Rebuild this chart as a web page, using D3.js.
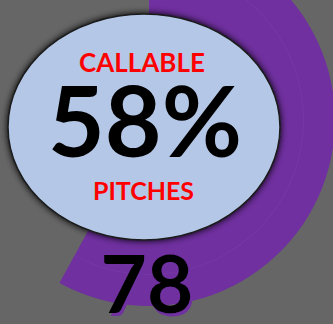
<!DOCTYPE html>
<html>
<head>
<meta charset="utf-8">
<script src="https://cdn.jsdelivr.net/npm/d3@7"></script>
<style>
  body { margin: 0; background: #666666; }
  svg { display: block; }
  text { font-family: Lato, "Open Sans", sans-serif; font-weight: bold; }
</style>
</head>
<body>
<div id="gauge"></div>
<script>
  var w = 333;
  var h = 324;

  // data
  var percentValues = [58];
  var countValues = [78];
  var topLabels = ["CALLABLE"];
  var bottomLabels = ["PITCHES"];

  var cx = 149, cy = 120;
  var outerR = 186, innerR = 100;

  var svg = d3.select("#gauge")
        .append("svg")
        .attr("width", w)
        .attr("height", h);

  var defs = svg.append("defs");
  var shadow = defs.append("filter")
        .attr("id", "shadow")
        .attr("x", "-20%").attr("y", "-20%")
        .attr("width", "140%").attr("height", "140%");
  shadow.append("feGaussianBlur")
        .attr("in", "SourceAlpha")
        .attr("stdDeviation", 3.5)
        .attr("result", "blur");
  var merge = shadow.append("feMerge");
  merge.append("feMergeNode").attr("in", "blur");
  merge.append("feMergeNode").attr("in", "SourceGraphic");

  var txtShadow = defs.append("filter").attr("id", "txtShadow");
  txtShadow.append("feFlood").attr("flood-color", "#7030a0");
  txtShadow.append("feComposite").attr("in2", "SourceAlpha").attr("operator", "in").attr("result", "col");
  txtShadow.append("feOffset").attr("in", "col").attr("dx", 2).attr("dy", 3).attr("result", "off");
  var m2 = txtShadow.append("feMerge");
  m2.append("feMergeNode").attr("in", "off");
  m2.append("feMergeNode").attr("in", "SourceGraphic");

  svg.append("rect")
    .attr("width", w)
    .attr("height", h)
    .attr("fill", "#666666");

  // percent -> angle
  var angle = d3.scaleLinear()
        .domain([0, 100])
        .range([0, 2 * Math.PI]);

  var arc = d3.arc()
        .innerRadius(innerR)
        .outerRadius(outerR)
        .startAngle(0);

  var g = svg.append("g")
        .attr("transform", "translate(" + cx + "," + cy + ")");

  g.selectAll(".ring")
    .data(percentValues)
    .enter()
    .append("path")
    .attr("class", "ring")
    .attr("d", function(d) { return arc.endAngle(angle(d))(); })
    .attr("fill", "#7030a0");

  // faint inner line in the ring
  g.selectAll(".ringLine")
    .data(percentValues)
    .enter()
    .append("path")
    .attr("class", "ringLine")
    .attr("d", function(d) {
      return d3.arc().innerRadius(154).outerRadius(155).startAngle(0).endAngle(angle(d))();
    })
    .attr("fill", "#8a55b5")
    .attr("opacity", 0.22);

  // center ellipse
  svg.append("ellipse")
    .attr("cx", 144)
    .attr("cy", 127)
    .attr("rx", 136)
    .attr("ry", 113)
    .attr("fill", "#b4c7e7")
    .attr("stroke", "#1a1a1a")
    .attr("stroke-width", 1.5)
    .attr("filter", "url(#shadow)");

  svg.selectAll(".top")
    .data(topLabels)
    .enter()
    .append("text")
    .attr("class", "top")
    .attr("x", 142)
    .attr("y", 72)
    .attr("text-anchor", "middle")
    .attr("fill", "#ff0000")
    .style("font-size", "26px")
    .text(function(d) { return d; });

  svg.selectAll(".pct")
    .data(percentValues)
    .enter()
    .append("text")
    .attr("class", "pct")
    .attr("x", 145)
    .attr("y", 157)
    .attr("text-anchor", "middle")
    .attr("fill", "#000")
    .style("font-size", "98px")
    .text(function(d) { return d + "%"; });

  svg.selectAll(".bottom")
    .data(bottomLabels)
    .enter()
    .append("text")
    .attr("class", "bottom")
    .attr("x", 143.5)
    .attr("y", 200)
    .attr("text-anchor", "middle")
    .attr("fill", "#ff0000")
    .style("font-size", "25px")
    .text(function(d) { return d; });

  svg.selectAll(".count")
    .data(countValues)
    .enter()
    .append("text")
    .attr("class", "count")
    .attr("x", 147)
    .attr("y", 313)
    .attr("text-anchor", "middle")
    .attr("fill", "#000")
    .attr("filter", "url(#txtShadow)")
    .style("font-size", "80px")
    .text(function(d) { return d; });
</script>
</body>
</html>
